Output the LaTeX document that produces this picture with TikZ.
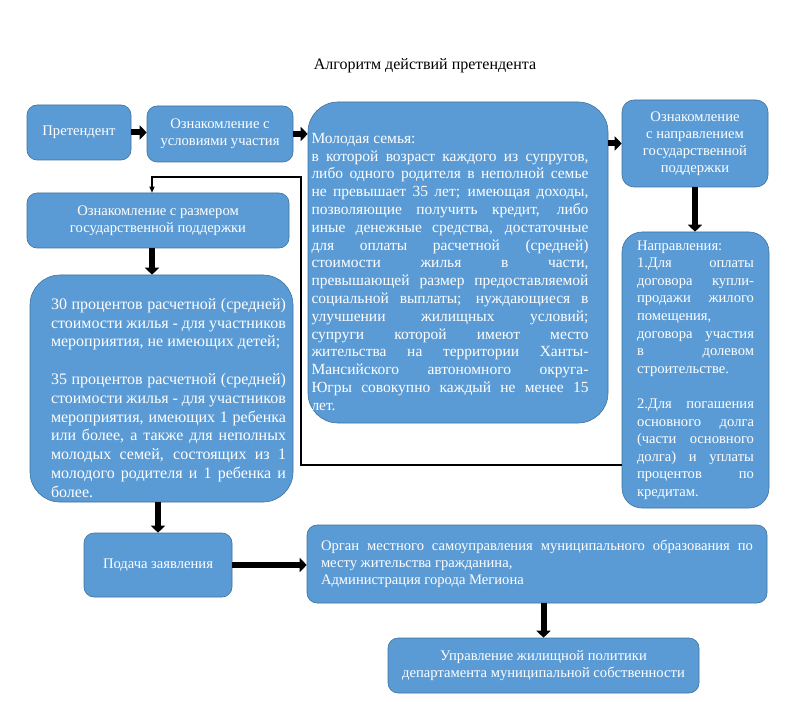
\documentclass[tikz,border=0pt]{standalone}
\usepackage{fontspec}
\setmainfont{Liberation Serif}
\usetikzlibrary{arrows.meta}

\definecolor{boxfill}{HTML}{5B9BD5}
\definecolor{boxline}{HTML}{41719C}
% justified block of given width, moved sideways by half of #1
\newcommand{\textblock}[3]{\hspace*{#1}\begin{minipage}{#2}%
    \tolerance=10000 \hbadness=10000 \emergencystretch=0pt #3\end{minipage}}

\tikzset{flow box/.style={draw=boxline, fill=boxfill, semithick, rounded corners=10pt,
        text=white, align=center, inner sep=2pt, font=\fontsize{14.6}{17}\selectfont},
    long box/.style={draw=boxline, fill=boxfill, semithick, rounded corners=10pt,
        text=white, inner sep=0pt, font=\fontsize{15.5}{17.8}\selectfont},
    thick arrow/.style={line width=6pt, -{Triangle[length=7pt, width=14pt]}},
    back line/.style={line width=1.2pt, -{Triangle[length=6pt, width=5pt]}},
}

\begin{document}
\begin{tikzpicture}[x=1pt, y=-1pt]
	\useasboundingbox (0,0) rectangle (792,727);

	\node[font=\fontsize{16}{19}\selectfont] (title) at (425,66) {Алгоритм действий претендента};

	% top row
	\node[flow box, minimum width=104pt, minimum height=55pt] (applicant) at (79,132.5) {Претендент};
	\node[flow box, minimum width=146pt, minimum height=56pt] (terms) at (220,134) {Ознакомление с\\условиями участия};
	\node[long box, rounded corners=30pt, minimum width=300pt, minimum height=321pt] (family) at (458,262.5) {%
		\textblock{-16pt}{277pt}{%
		\rule{0pt}{29pt}Молодая семья:\newline
		в которой возраст каждого из супругов,\linebreak
		либо одного родителя в неполной семье\linebreak
		не превышает 35 лет; имеющая доходы,\linebreak
		позволяющие получить кредит, либо\linebreak
		иные денежные средства, достаточные\linebreak
		для оплаты расчетной (средней)\linebreak
		стоимости жилья в части,\linebreak
		превышающей размер предоставляемой\linebreak
		социальной выплаты; нуждающиеся в\linebreak
		улучшении жилищных условий;\linebreak
		супруги которой имеют место\linebreak
		жительства на территории Ханты-\linebreak
		Мансийского автономного округа-\linebreak
		Югры совокупно каждый не менее 15\linebreak
		лет.}};
	\node[flow box, rounded corners=12pt, minimum width=146pt, minimum height=87pt] (aim) at (695,143.5) {Ознакомление\\с направлением\\государственной\\поддержки};
	\node[long box, rounded corners=20pt, minimum width=147pt, minimum height=276pt,
		font=\fontsize{14.6}{17.6}\selectfont] (aims) at (695.5,370) {%
		\textblock{0pt}{117pt}{%
		Направления:\newline
		1.Для оплаты\linebreak
		договора купли-\linebreak
		продажи жилого\linebreak
		помещения,\newline
		договора участия\linebreak
		в долевом\linebreak
		строительстве.\newline
		\null\newline
		2.Для погашения\linebreak
		основного долга\linebreak
		(части основного\linebreak
		долга) и уплаты\linebreak
		процентов по\linebreak
		кредитам.}};

	% left column
	\node[flow box, minimum width=262pt, minimum height=55pt] (amount) at (158,220.5) {Ознакомление с размером\\государственной поддержки};
	\node[long box, rounded corners=30pt, minimum width=263pt, minimum height=227pt,
		font=\fontsize{16}{18.8}\selectfont] (share) at (161.5,388.5) {%
		\textblock{14pt}{235pt}{%
		\rule{0pt}{30pt}30 процентов расчетной (средней)\linebreak
		стоимости жилья - для участников\linebreak
		мероприятия, не имеющих детей;\newline
		\null\newline
		35 процентов расчетной (средней)\linebreak
		стоимости жилья - для участников\linebreak
		мероприятия, имеющих 1 ребенка\linebreak
		или более, а также для неполных\linebreak
		молодых семей, состоящих из 1\linebreak
		молодого родителя и 1 ребенка и\linebreak
		более.}};

	% bottom
	\node[flow box, minimum width=148pt, minimum height=64pt] (request) at (158,565) {Подача заявления};
	\node[long box, minimum width=460pt, minimum height=78pt, font=\fontsize{14.6}{17}\selectfont] (office) at (537,564) {%
		\textblock{0pt}{432pt}{%
		Орган местного самоуправления муниципального образования по\linebreak
		месту жительства гражданина,\newline
		Администрация города Мегиона}};
	\node[flow box, minimum width=311pt, minimum height=55pt] (dept) at (543.5,665.5) {Управление жилищной политики\\департамента муниципальной собственности};

	% arrows
	\draw[thick arrow] (applicant.east) -- (applicant.east -| terms.west);
	\draw[thick arrow] (terms.east) -- (terms.east -| family.west);
	\draw[thick arrow] (aim.west -| family.east) -- (aim.west);
	\draw[thick arrow] (aim.south) -- (aim.south |- aims.north);
	\draw[thick arrow] ([xshift=-6pt]amount.south) -- ([xshift=-6pt]amount.south |- share.north);
	\draw[thick arrow] (request.north |- share.south) -- (request.north);
	\draw[thick arrow] (request.east) -- (request.east -| office.west);
	\draw[thick arrow] (dept.north |- office.south) -- (dept.north);

	% line back to the size of support
	\coordinate (low turn) at (301,465);
	\coordinate (high turn) at (301,177);
	\draw[back line] (aims.west |- low turn) -- (low turn) -- (high turn) -| ([xshift=-6pt]amount.north);
\end{tikzpicture}
\end{document}
